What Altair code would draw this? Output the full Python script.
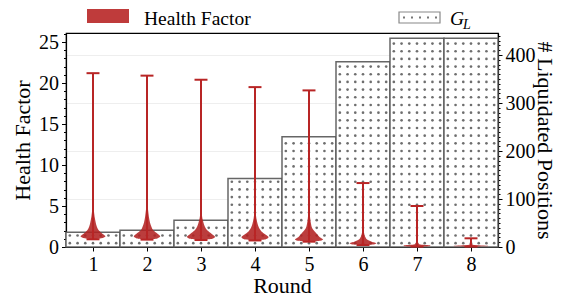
import altair as alt
import pandas as pd

# ---------------- data ----------------
rounds = [1, 2, 3, 4, 5, 6, 7, 8]
liquidated = [31, 35, 56, 143, 230, 386, 435, 435]
hf_max = [21.2, 20.9, 20.4, 19.5, 19.1, 7.8, 5.0, 1.06]
hf_min = [0.94, 0.90, 0.85, 0.80, 0.65, 0.24, 0.05, 0.05]

# violin outline per round: health-factor levels and half-widths (in round units)
violin_hf = [
    [0.94, 1.10, 1.30, 1.60, 2.00, 2.50, 3.00, 3.70, 4.50, 6.00],
    [0.90, 1.05, 1.30, 1.60, 2.00, 2.50, 3.00, 3.70, 4.50, 6.00],
    [0.85, 1.00, 1.25, 1.60, 2.00, 2.50, 3.00, 3.50, 4.20, 5.50],
    [0.80, 0.95, 1.20, 1.50, 1.90, 2.40, 2.90, 3.50, 4.20, 5.50],
    [0.65, 0.75, 0.90, 1.20, 1.67, 2.30, 2.90, 3.50, 4.20, 5.50],
    [0.24, 0.30, 0.45, 0.65, 0.85, 1.26, 1.70, 2.30, 3.00],
    [0.05, 0.10, 0.18, 0.30, 0.60, 1.00],
    [0.05, 0.08, 0.14, 0.25, 0.50],
]
violin_halfwidth = [
    [0.0, 0.18, 0.23, 0.18, 0.11, 0.07, 0.05, 0.03, 0.015, 0.0],
    [0.0, 0.19, 0.245, 0.20, 0.12, 0.08, 0.055, 0.035, 0.02, 0.0],
    [0.0, 0.21, 0.26, 0.20, 0.12, 0.07, 0.045, 0.025, 0.012, 0.0],
    [0.0, 0.20, 0.25, 0.20, 0.12, 0.07, 0.045, 0.025, 0.012, 0.0],
    [0.0, 0.21, 0.26, 0.20, 0.135, 0.06, 0.035, 0.022, 0.012, 0.0],
    [0.0, 0.19, 0.25, 0.16, 0.09, 0.04, 0.02, 0.01, 0.0],
    [0.0, 0.23, 0.25, 0.05, 0.01, 0.0],
    [0.0, 0.30, 0.32, 0.05, 0.0],
]

hf_major_ticks = [0, 5, 10, 15, 20, 25]
hf_minor_ticks = list(range(0, 27))
liq_major_ticks = [0, 100, 200, 300, 400]
liq_minor_ticks = list(range(0, 450, 10))

HF_DOMAIN = [0, 26.1]
LIQ_DOMAIN = [0, 446]
FONT = "Liberation Serif"
RED = "#b22222"

# ---------------- tables ----------------
summary = pd.DataFrame({"round": rounds, "liquidated": liquidated,
                        "hf_max": hf_max, "hf_min": hf_min})
vrows = []
for r, hs, ws in zip(rounds, violin_hf, violin_halfwidth):
    for h, w in zip(hs, ws):
        vrows.append({"round": r, "hf": h, "xl": r - w, "xr": r + w})
violins = pd.DataFrame(vrows)

xscale = alt.Scale(domain=[0.5, 8.5], nice=False, zero=False)
hf_scale = alt.Scale(domain=HF_DOMAIN, nice=False, zero=False)
liq_scale = alt.Scale(domain=LIQ_DOMAIN, nice=False, zero=False)

x_axis = alt.Axis(values=rounds, format="d", title="Round", grid=False,
                  tickSize=4, labelPadding=3, titleY=38, titleBaseline="middle")

base = alt.Chart(summary)

# bars (secondary axis)
bars = base.transform_calculate(
    x0="datum.round - 0.5", x1="datum.round + 0.5", zero="0"
).mark_rect(fill="white", stroke="#555555", strokeWidth=1.5, strokeOpacity=0.9).encode(
    x=alt.X("x0:Q", scale=xscale, axis=x_axis),
    x2="x1:Q",
    y=alt.Y("liquidated:Q", scale=liq_scale,
            axis=alt.Axis(orient="right", values=liq_major_ticks, title="# Liquidated Positions",
                          grid=True, gridColor="#eeeeee", gridWidth=1, tickSize=4,
                          labelPadding=3, titleAngle=90, titleX=46, titleBaseline="middle")),
    y2="zero:Q",
)

# hatch dots inside bars
dots = base.transform_calculate(
    rows="sequence(8, datum.liquidated - 3, 16)", cols="sequence(-3, 4)"
).transform_flatten(["rows"]).transform_flatten(["cols"]).transform_calculate(
    dx="datum.round + datum.cols * 0.143"
).mark_circle(size=7, color="#555555", opacity=0.85).encode(
    x=alt.X("dx:Q", scale=xscale),
    y=alt.Y("rows:Q", scale=liq_scale,
            axis=alt.Axis(orient="right", values=liq_minor_ticks, labels=False, title=None,
                          grid=False, tickSize=2, domain=False)),
)

# violin bodies
violin = alt.Chart(violins).mark_area(
    orient="horizontal", fill=RED, fillOpacity=0.88, interpolate="monotone"
).encode(
    y=alt.Y("hf:Q", scale=hf_scale,
            axis=alt.Axis(orient="left", values=hf_major_ticks, title="Health Factor",
                          grid=False, tickSize=4.5, labelPadding=3,
                          titleX=-44, titleBaseline="middle")),
    x=alt.X("xl:Q", scale=xscale),
    x2=alt.X2("xr:Q"),
    color=alt.Color("round:N", scale=alt.Scale(range=[RED]), legend=None),
)

# whiskers
whisker = base.mark_rule(color="#b82525", strokeWidth=2).encode(
    x=alt.X("round:Q", scale=xscale),
    y=alt.Y("hf_min:Q", scale=hf_scale,
            axis=alt.Axis(orient="left", values=hf_minor_ticks, labels=False, title=None,
                          grid=False, tickSize=2.5, domain=False)),
    y2="hf_max:Q",
)
caps_top = base.transform_calculate(
    c0="datum.round - 0.12", c1="datum.round + 0.12"
).mark_rule(color="#b82525", strokeWidth=2).encode(
    x=alt.X("c0:Q", scale=xscale), x2="c1:Q",
    y=alt.Y("hf_max:Q", scale=hf_scale, axis=None),
)
caps_bot = base.transform_calculate(
    c0="datum.round - 0.12", c1="datum.round + 0.12"
).mark_rule(color="#b82525", strokeWidth=2).encode(
    x=alt.X("c0:Q", scale=xscale), x2="c1:Q",
    y=alt.Y("hf_min:Q", scale=hf_scale, axis=None),
)

# legend (manual)
one = alt.Chart(pd.DataFrame({"k": [0]}))
leg_red = one.mark_rect(fill="#bf3b3b").encode(
    x=alt.value(21), x2=alt.value(63), y=alt.value(-24), y2=alt.value(-10))
leg_red_txt = one.mark_text(text="Health Factor", font=FONT, fontSize=19.5, align="left",
                            baseline="alphabetic", color="black").encode(
    x=alt.value(78), y=alt.value(-8))
leg_box = one.mark_rect(fill="white", stroke="#888888", strokeWidth=1.2).encode(
    x=alt.value(333), x2=alt.value(374), y=alt.value(-21), y2=alt.value(-10))
leg_box_dots = one.mark_rule(color="#777777", strokeWidth=2, strokeDash=[2, 6]).encode(
    x=alt.value(337), x2=alt.value(372), y=alt.value(-15.5))
leg_g = one.mark_text(text="G", font=FONT, fontSize=19.5, fontStyle="italic", align="left",
                      baseline="alphabetic", color="black").encode(
    x=alt.value(384), y=alt.value(-8.5))
leg_l = one.mark_text(text="L", font=FONT, fontSize=14, fontStyle="italic", align="left",
                      baseline="alphabetic", color="black").encode(
    x=alt.value(397), y=alt.value(-4))

chart = alt.layer(
    bars, dots, violin, whisker, caps_top, caps_bot,
    leg_red, leg_red_txt, leg_box, leg_box_dots, leg_g, leg_l,
).resolve_scale(y="independent").properties(
    width=432, height=214,
    autosize=alt.AutoSizeParams(type="none"),
    padding={"left": 58, "top": 25, "right": 58, "bottom": 49},
).configure_view(
    stroke="black", strokeWidth=1.2
).configure_axis(
    labelFont=FONT, titleFont=FONT, labelFontSize=20, titleFontSize=22,
    titleFontWeight="normal", labelColor="black", titleColor="black",
    domainColor="black", domainWidth=1.2, tickColor="black", tickWidth=1,
)

chart.save("out.html", embed_options={"renderer": "svg", "actions": False})
